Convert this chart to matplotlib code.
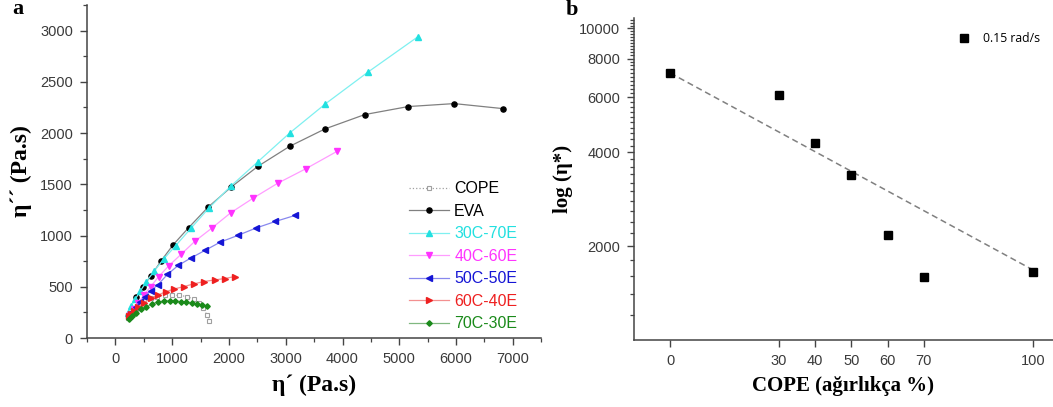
import matplotlib
matplotlib.use("Agg")
import matplotlib.pyplot as plt
from matplotlib.ticker import MultipleLocator, FixedLocator, NullFormatter, NullLocator

# Panel a: Cole-Cole egrileri (eta' - eta'')
cope_x = [230, 280, 345, 420, 510, 620, 740, 870, 990, 1120, 1260, 1380, 1480, 1550, 1610, 1650]
cope_y = [200, 245, 290, 330, 365, 390, 405, 415, 418, 416, 405, 380, 345, 290, 225, 170]

eva_x = [365, 482, 629, 806, 1017, 1293, 1628, 2040, 2510, 3069, 3692, 4392, 5156, 5967, 6825]
eva_y = [398, 496, 609, 753, 909, 1078, 1274, 1473, 1675, 1870, 2040, 2180, 2258, 2287, 2238]

c30_x = [225, 280, 350, 436, 545, 680, 850, 1060, 1330, 1650, 2030, 2510, 3070, 3700, 4450, 5330]
c30_y = [245, 310, 380, 455, 550, 650, 770, 900, 1070, 1270, 1480, 1720, 2000, 2285, 2595, 2940]

c40_x = [250, 320, 400, 500, 620, 764, 940, 1164, 1403, 1698, 2032, 2428, 2862, 3353, 3900]
c40_y = [225, 280, 340, 420, 500, 600, 704, 820, 945, 1072, 1222, 1365, 1511, 1651, 1820]

c50_x = [240, 290, 355, 430, 520, 620, 749, 918, 1107, 1327, 1579, 1849, 2157, 2472, 2818, 3164]
c50_y = [215, 255, 300, 350, 405, 460, 520, 621, 708, 780, 855, 936, 1001, 1072, 1137, 1196]

c60_x = [235, 280, 330, 400, 500, 629, 753, 894, 1041, 1205, 1381, 1557, 1751, 1922, 2105]
c60_y = [210, 235, 265, 305, 345, 388, 420, 453, 479, 502, 528, 551, 567, 580, 600]

c70_x = [235, 294, 370, 453, 547, 647, 747, 852, 958, 1058, 1158, 1252, 1352, 1441, 1529, 1605]
c70_y = [183, 215, 248, 280, 307, 333, 352, 359, 365, 365, 352, 352, 339, 332, 323, 313]

# Panel b: kompleks viskozite (0.15 rad/s)
cope_pct = [0, 30, 40, 50, 60, 70, 100]
eta_star = [7200, 6110, 4290, 3390, 2180, 1595, 1650]
fit_x = [0, 100]
fit_y = [7190, 1680]

AXC = "#444444"
TICKC = "#3a3a3a"

fig = plt.figure(figsize=(10.53, 4.07), dpi=100)
ax1 = fig.add_axes([0.0826, 0.1695, 0.4314, 0.8185])
ax2 = fig.add_axes([0.602, 0.1646, 0.398, 0.7914])

series = [
    ("COPE", cope_x, cope_y, "#a0a0a0", "#a0a0a0", "s", ":", "black"),
    ("EVA", eva_x, eva_y, "#808080", "black", "o", "-", "black"),
    ("30C-70E", c30_x, c30_y, "#7ff0f0", "#22e0e0", "^", "-", "#22e0e0"),
    ("40C-60E", c40_x, c40_y, "#ff9cff", "#ff33ff", "v", "-", "#ff33ff"),
    ("50C-50E", c50_x, c50_y, "#8888ee", "#1515d5", "<", "-", "#1515d5"),
    ("60C-40E", c60_x, c60_y, "#f39090", "#ee2020", ">", "-", "#ee2020"),
    ("70C-30E", c70_x, c70_y, "#80b880", "#1a8a1a", "D", "-", "#1a8a1a"),
]

handles = []
labels = []
text_colors = []
for name, xs, ys, lc, mc, mk, ls, tc in series:
    ln, = ax1.plot(xs, ys, ls=ls, color=lc, lw=0.9)
    if mk == "s":
        mrk, = ax1.plot(xs, ys, ls="none", marker=mk, ms=3.4, mfc="white", mec=mc, mew=0.8)
    else:
        ms = 2.8 if mk == "D" else 3.7
        mrk, = ax1.plot(xs, ys, ls="none", marker=mk, ms=ms, color=mc)
    handles.append((ln, mrk))
    labels.append(name)
    text_colors.append(tc)

ax1.set_xlim(-500, 7500)
ax1.set_ylim(0, 3250)
ax1.xaxis.set_major_locator(FixedLocator([0, 1000, 2000, 3000, 4000, 5000, 6000, 7000]))
ax1.xaxis.set_minor_locator(MultipleLocator(500))
ax1.yaxis.set_major_locator(FixedLocator([0, 500, 1000, 1500, 2000, 2500, 3000]))
ax1.yaxis.set_minor_locator(MultipleLocator(250))

leg = ax1.legend(handles, labels, loc="upper left", bbox_to_anchor=(0.694, 0.49),
                 frameon=False, handlelength=2.5, handletextpad=0.35,
                 labelspacing=0.47, borderaxespad=0,
                 prop={"family": "Liberation Sans", "size": 11.5})
for txt, c in zip(leg.get_texts(), text_colors):
    txt.set_color(c)

ax1.set_xlabel("η´ (Pa.s)", fontsize=17, fontweight="bold", family="Liberation Serif", labelpad=6)
ax1.set_ylabel("η´´ (Pa.s)", fontsize=17, fontweight="bold", family="Liberation Serif", labelpad=6)

# panel b
ax2.plot(fit_x, fit_y, ls=(0, (4, 2.5)), color="#808080", lw=1.1)
ax2.plot(cope_pct, eta_star, ls="none", marker="s", ms=5.6, color="black", label="0.15 rad/s")
ax2.set_yscale("log")
ax2.set_xlim(-10, 105.6)
ax2.set_ylim(1000, 10800)
ax2.xaxis.set_major_locator(FixedLocator(cope_pct))
ax2.xaxis.set_minor_locator(NullLocator())
ax2.yaxis.set_major_locator(FixedLocator([2000, 4000, 6000, 8000, 10000]))
minor_y = [v for v in range(1200, 10800, 200) if v not in (2000, 4000, 6000, 8000, 10000)]
ax2.yaxis.set_minor_locator(FixedLocator(minor_y))
ax2.yaxis.set_minor_formatter(NullFormatter())
ax2.yaxis.set_major_formatter(plt.FuncFormatter(lambda v, p: f"{int(round(v))}"))

leg2 = ax2.legend(loc="upper right", bbox_to_anchor=(0.995, 0.99), frameon=False,
                  handletextpad=1.0, handlelength=1.0, numpoints=1,
                  prop={"family": "Open Sans", "size": 8.8})

ax2.set_xlabel("COPE (ağırlıkça %)", fontsize=15, fontweight="bold", family="Liberation Serif", labelpad=6)
ax2.set_ylabel("log (η*)", fontsize=15, fontweight="bold", family="Liberation Serif", labelpad=4)

for ax in (ax1, ax2):
    for s in ("top", "right"):
        ax.spines[s].set_visible(False)
    for s in ("left", "bottom"):
        ax.spines[s].set_color(AXC)
        ax.spines[s].set_linewidth(1.1)
    ax.tick_params(which="major", direction="out", length=5, width=1, color=AXC,
                   labelcolor=TICKC, labelsize=10.5, pad=5)
    ax.tick_params(which="minor", direction="out", length=3, width=0.9, color=AXC)
    for lab in ax.get_xticklabels() + ax.get_yticklabels():
        lab.set_family("Liberation Sans")

fig.text(0.012, 0.965, "a", fontsize=16, fontweight="bold", family="Liberation Serif")
fig.text(0.537, 0.962, "b", fontsize=16, fontweight="bold", family="Liberation Serif")

fig.savefig("out.png", dpi=100)
